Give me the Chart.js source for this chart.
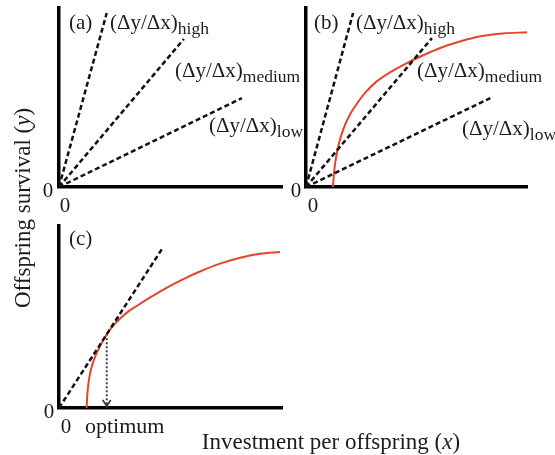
<!DOCTYPE html>
<html>
<head>
<meta charset="utf-8">
<script src="https://cdn.jsdelivr.net/npm/chart.js@4/dist/chart.umd.min.js"></script>
<style>
  html, body { margin: 0; padding: 0; background: #fff; }
  #wrap { position: relative; width: 555px; height: 455px; overflow: hidden; background: #fff; }
  #wrap canvas { position: absolute; left: 0; top: 0; }
  .lbl { position: absolute; font-family: "Liberation Serif", serif; font-size: 21px; line-height: 1;
         color: #1c1c1c; white-space: nowrap; transform: translateY(-50%); }
  .lbl sub { font-size: 17.5px; vertical-align: baseline; position: relative; top: 5px; }
  .ctr { transform: translate(-50%, -50%); }
  .title { font-size: 23px; }
  .ytitle { transform: translate(-50%, -50%) rotate(-90deg); }
</style>
</head>
<body>
<div id="wrap">
  <canvas id="pa" width="555" height="455"></canvas>
  <canvas id="pb" width="555" height="455"></canvas>
  <canvas id="pc" width="555" height="455"></canvas>

  <div class="lbl" style="left:69px;top:22px">(a)</div>
  <div class="lbl" style="left:110px;top:22px">(Δy/Δx)<sub>high</sub></div>
  <div class="lbl" style="left:175px;top:70px">(Δy/Δx)<sub>medium</sub></div>
  <div class="lbl" style="left:209px;top:125px">(Δy/Δx)<sub>low</sub></div>

  <div class="lbl" style="left:314px;top:22px">(b)</div>
  <div class="lbl" style="left:356px;top:22px">(Δy/Δx)<sub>high</sub></div>
  <div class="lbl" style="left:417px;top:70px">(Δy/Δx)<sub>medium</sub></div>
  <div class="lbl" style="left:462px;top:128px">(Δy/Δx)<sub>low</sub></div>

  <div class="lbl" style="left:69px;top:238px">(c)</div>

  <div class="lbl ctr" style="left:48px;top:190px">0</div>
  <div class="lbl ctr" style="left:65px;top:205px">0</div>
  <div class="lbl ctr" style="left:296px;top:190px">0</div>
  <div class="lbl ctr" style="left:313px;top:205px">0</div>
  <div class="lbl ctr" style="left:49px;top:411px">0</div>
  <div class="lbl ctr" style="left:66px;top:426px">0</div>
  <div class="lbl" style="left:85px;top:426px;font-size:22px">optimum</div>

  <div class="lbl ctr title" style="left:331px;top:441px">Investment per offspring (<i>x</i>)</div>
  <div class="lbl ytitle title" style="left:22px;top:208px">Offspring survival (<i>y</i>)</div>
</div>

<script>
// Axis ranges (both axes run 0..10 in every panel)
const axisMin = 0;
const axisMax = 10;

// Slope lines from the origin: end points of the high / medium / low lines
const slopeNames = ['high', 'medium', 'low'];
const panelAEndX = [2.14, 5.6, 8.2];
const panelAEndY = [9.72, 8.27, 4.97];
const panelBEndX = [2.13, 5.7, 8.34];
const panelBEndY = [9.72, 8.32, 4.97];

// Survival curve, panel (b)
const curveBX = [1.22, 1.26, 1.32, 1.42, 1.56, 1.76, 2.0, 2.3, 2.7, 3.2, 3.8, 4.5, 5.3, 6.1, 7.0, 7.9, 8.9, 10.0];
const curveBY = [0, 0.70, 1.35, 2.05, 2.75, 3.45, 4.08, 4.65, 5.30, 5.90, 6.40, 6.88, 7.36, 7.78, 8.14, 8.42, 8.58, 8.64];

// Survival curve, panel (c)
const curveCX = [1.24, 1.27, 1.33, 1.43, 1.58, 1.78, 2.14, 2.5, 3.0, 3.5, 4.2, 4.84, 5.6, 6.32, 7.22, 8.12, 9.0, 9.91];
const curveCY = [0, 0.75, 1.45, 2.10, 2.70, 3.25, 4.05, 4.62, 5.20, 5.62, 6.16, 6.62, 7.10, 7.50, 7.93, 8.26, 8.47, 8.57];

// Tangent line from the origin in panel (c) and the optimum it marks
const tangentEnd = [4.66, 8.82];
const optimumX = 2.14;
const optimumY = 4.05;

const ink = '#111111';
const curveRed = '#e5442d';

function pts(xs, ys) { return xs.map((x, i) => ({ x: x, y: ys[i] })); }

function slopeSets(endX, endY) {
  return slopeNames.map((n, i) => ({
    label: n,
    data: [{ x: 0, y: 0 }, { x: endX[i], y: endY[i] }],
    borderColor: ink, borderWidth: 2.5, borderDash: [5, 3],
    pointRadius: 0, fill: false
  }));
}

function curveSet(xs, ys) {
  return {
    label: 'survival',
    data: pts(xs, ys),
    borderColor: curveRed, borderWidth: 2,
    pointRadius: 0, fill: false,
    cubicInterpolationMode: 'monotone'
  };
}

function scaleOpts(isX) {
  return {
    type: 'linear', min: axisMin, max: axisMax,
    ticks: { display: false },
    grid: { display: false, drawTicks: false },
    border: { display: true, color: '#000', width: 3.5 },
    afterFit: s => { if (isX) s.height = 0; else s.width = 0; }
  };
}

// Arrowhead at the foot of the optimum drop line
const arrowHead = {
  id: 'arrowHead',
  afterDatasetsDraw(chart, args, opts) {
    if (!opts.enabled) return;
    const px = chart.scales.x.getPixelForValue(optimumX);
    const py = chart.scales.y.getPixelForValue(0) - 2;
    const ctx = chart.ctx;
    ctx.save();
    ctx.strokeStyle = '#333';
    ctx.lineWidth = 1.6;
    ctx.beginPath();
    ctx.moveTo(px - 4, py - 6);
    ctx.lineTo(px, py);
    ctx.lineTo(px + 4, py - 6);
    ctx.stroke();
    ctx.restore();
  }
};

function makePanel(id, datasets, area, arrow) {
  return new Chart(document.getElementById(id), {
    type: 'line',
    data: { datasets: datasets },
    plugins: [arrowHead],
    options: {
      responsive: false, animation: false,
      layout: { padding: { left: area.left, top: area.top, right: 555 - area.right, bottom: 455 - area.bottom } },
      plugins: { legend: { display: false }, tooltip: { enabled: false }, arrowHead: { enabled: !!arrow } },
      scales: { x: scaleOpts(true), y: scaleOpts(false) },
      elements: { line: { tension: 0 } }
    }
  });
}

makePanel('pa', slopeSets(panelAEndX, panelAEndY), { left: 59, top: 8, right: 282, bottom: 187 }, false);

makePanel('pb', slopeSets(panelBEndX, panelBEndY).concat([curveSet(curveBX, curveBY)]),
  { left: 306, top: 8, right: 527, bottom: 187 }, false);

makePanel('pc', [
  {
    label: 'tangent',
    data: [{ x: 0, y: 0 }, { x: tangentEnd[0], y: tangentEnd[1] }],
    borderColor: ink, borderWidth: 2.5, borderDash: [5, 3], pointRadius: 0, fill: false
  },
  curveSet(curveCX, curveCY),
  {
    label: 'optimum',
    data: [{ x: optimumX, y: optimumY }, { x: optimumX, y: 0 }],
    borderColor: '#333', borderWidth: 1.8, borderDash: [2, 2], pointRadius: 0, fill: false
  }
], { left: 59, top: 226, right: 282, bottom: 408 }, true);
</script>
</body>
</html>
